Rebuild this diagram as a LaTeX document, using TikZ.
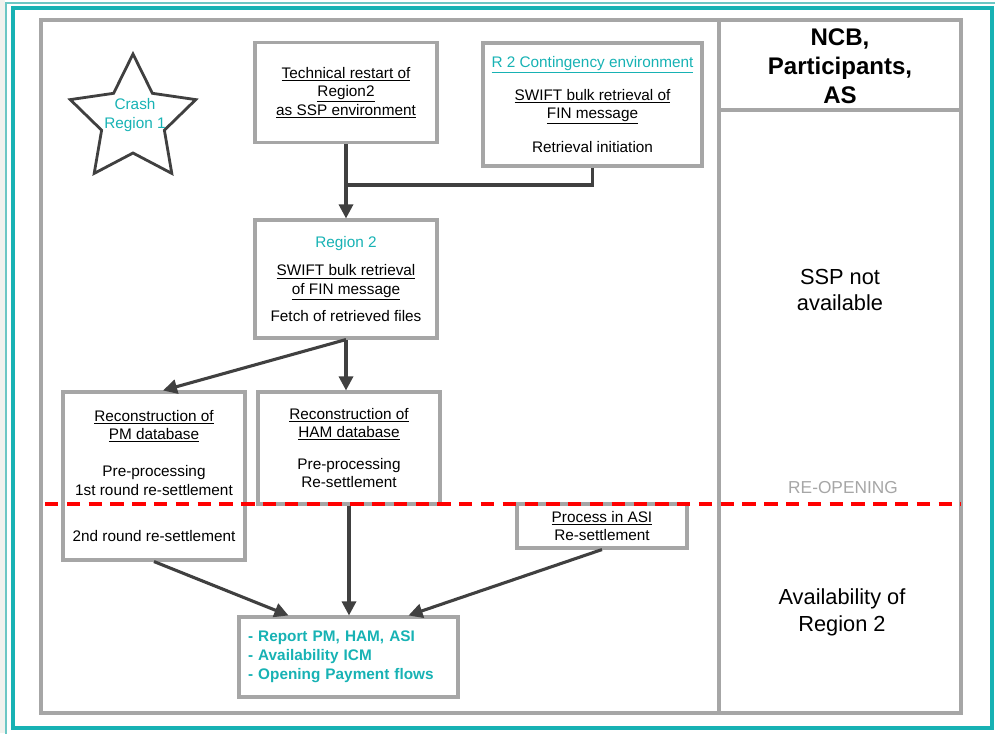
\documentclass[tikz,border=0pt]{standalone}
\usepackage{fontspec}
\setmainfont{Liberation Sans}
\usetikzlibrary{arrows.meta,calc}
\definecolor{framegray}{HTML}{A6A6A6}
\definecolor{linegray}{HTML}{404040}
\definecolor{tealc}{HTML}{17B2B4}
\definecolor{tealpale}{HTML}{6CC7C4}
\definecolor{stripgray}{HTML}{F1F2EE}
\newcommand{\ul}[1]{\underline{#1}}
\tikzset{
  stepbox/.style={draw=framegray, line width=2.2pt, align=center, inner sep=0pt,
    font=\fontsize{10.9}{13.1}\selectfont},
  flow/.style={draw=linegray, line width=2.2pt},
  flowarrow/.style={flow, -{Triangle[length=10pt,width=10pt]}},
  sidetext/.style={align=center, font=\fontsize{15.5}{19}\selectfont}
}
\begin{document}
\begin{tikzpicture}[x=0.025cm, y=-0.025cm]
\useasboundingbox (0,0) rectangle (995,733);
% frames
\fill[stripgray] (0,0) rectangle (5,733);
\draw[tealpale, line width=1.6pt] (6,3) rectangle (1000,740);
\draw[tealc, line width=2.2pt] (13,8) rectangle (992,728);
\draw[framegray, line width=2.2pt] (41,20) rectangle (961,713);
\draw[framegray, line width=2.2pt] (719,20) -- (719,713);
\draw[framegray, line width=2.2pt] (719,110) -- (961,110);

% star
\coordinate (starc) at (133,120);
\draw[linegray, line width=2pt, line join=miter]
  ($(starc)+(-90:66)$) \foreach \a in {90,162,234,306,18} {-- ($(starc)+(-\a:66)$) -- ($(starc)+(-\a-36:33)$)} -- cycle;
\node[tealc, align=center, font=\fontsize{10.9}{13.1}\selectfont] (crash) at (135,115) {Crash\\Region 1};

% boxes
\node[stepbox, minimum width=182*0.025cm, minimum height=100*0.025cm] (tech) at (346,92.5)
  {\ul{Technical restart of}\\\ul{Region2}\\\ul{as SSP environment}};
\node[stepbox, minimum width=219*0.025cm, minimum height=123*0.025cm] (cont) at (592.5,104.5)
  {\textcolor{tealc}{\ul{R 2 Contingency environment}}\\[10pt]
   \ul{SWIFT bulk retrieval of}\\\ul{FIN message}\\[11pt]Retrieval initiation};
\node[stepbox, minimum width=182*0.025cm, minimum height=118*0.025cm] (reg2) at (346,279)
  {\textcolor{tealc}{Region 2}\\[7.5pt]\ul{SWIFT bulk retrieval}\\\ul{of FIN message}\\[6.5pt]Fetch of retrieved files};
\node[stepbox, minimum width=182*0.025cm, minimum height=168*0.025cm] (pm) at (154,476)
  {\ul{Reconstruction of}\\\ul{PM database}\\[13.5pt]Pre-processing\\1st round re-settlement\\[20pt]2nd round re-settlement};
\node[stepbox, minimum width=182*0.025cm, minimum height=112*0.025cm] (ham) at (349,448)
  {\ul{Reconstruction of}\\\ul{HAM database}\\[9.5pt]Pre-processing\\Re-settlement};
\node[stepbox, minimum width=170*0.025cm, minimum height=44*0.025cm] (asi) at (602,526)
  {\ul{Process in ASI}\\Re-settlement};
\node[stepbox, minimum width=219*0.025cm, minimum height=80*0.025cm, text=tealc, align=left,
  text width=201*0.025cm, font=\bfseries\fontsize{10.9}{13.6}\selectfont] (report) at (348.5,657)
  {- Report PM, HAM, ASI\\- Availability ICM\\- Opening Payment flows};

% right column
\node[sidetext, font=\bfseries\fontsize{17.1}{20.5}\selectfont] (ncb) at (840,66) {NCB,\\Participants,\\AS};
\node[sidetext] (notavail) at (840,290) {SSP not\\available};
\node[sidetext] (avail) at (842,612) {Availability of\\Region 2};
\node[framegray, font=\fontsize{12.3}{14}\selectfont] (reopen) at (843,488) {RE-OPENING};

% connectors
\coordinate (join) at (346,185);
\draw[flowarrow] (tech.south) -- (reg2.north);
\draw[flow] (cont.south) |- (join);
\draw[flowarrow] (reg2.south) -- ($(pm.north)+(9,0)$);
\draw[flowarrow] (reg2.south) -- (reg2.south |- ham.north);
\draw[flowarrow] (ham.south) -- (ham.south |- report.north);
\draw[flowarrow] (pm.south) -- ($(report.north)+(-60,0)$);
\draw[flowarrow] (asi.south) -- ($(report.north)+(60,0)$);

% re-opening line
\draw[red, line width=2.2pt, dash pattern=on 9.5pt off 6pt] (45,504) -- (961,504);
\end{tikzpicture}
\end{document}
